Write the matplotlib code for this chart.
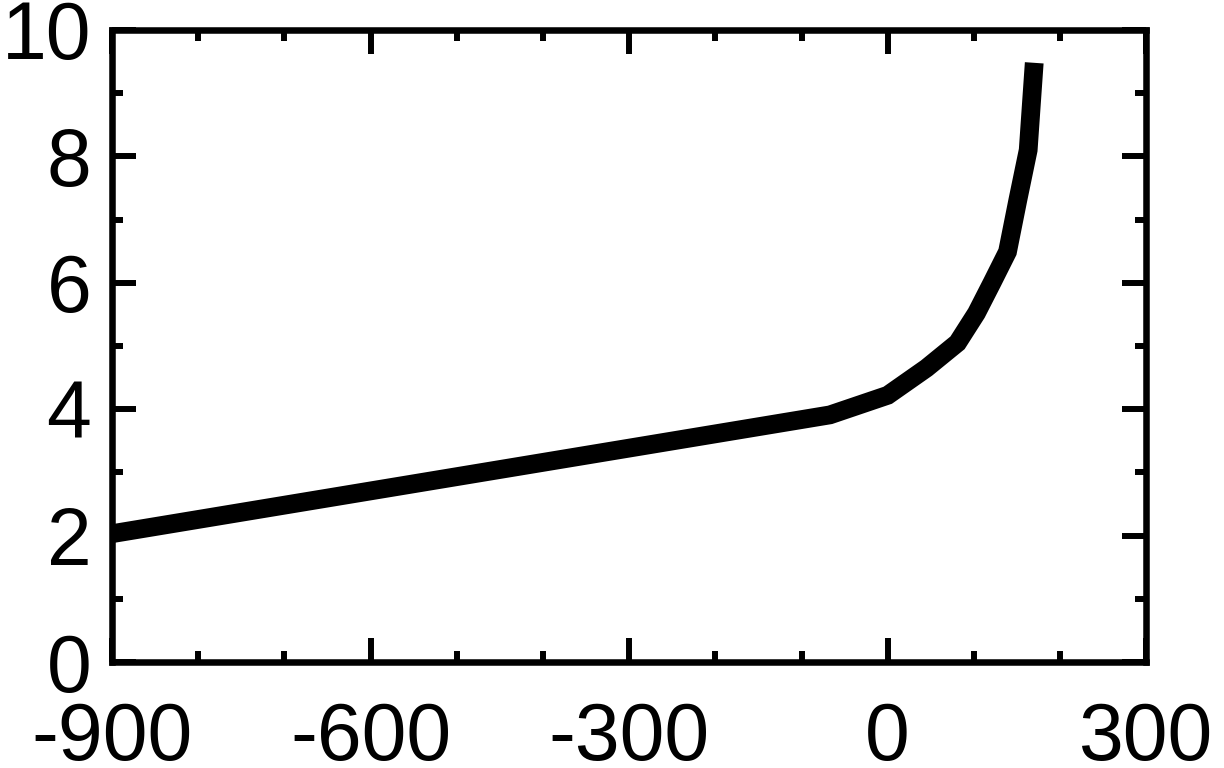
import matplotlib
matplotlib.use("Agg")
import matplotlib.pyplot as plt
from matplotlib.ticker import MultipleLocator

# values
x_vals = [-900, -67, 0, 45, 81, 103, 121, 139, 151, 163, 167, 170]
y_vals = [2.03, 3.91, 4.22, 4.65, 5.05, 5.52, 6.0, 6.49, 7.31, 8.1, 8.89, 9.48]
x_ticks = [-900, -600, -300, 0, 300]
y_ticks = [0, 2, 4, 6, 8, 10]

plt.rcParams['font.family'] = ['Liberation Sans', 'DejaVu Sans']
plt.rcParams['axes.unicode_minus'] = False

fig = plt.figure(figsize=(12.24, 7.68), dpi=100)
ax = fig.add_axes([0.0915, 0.138, 0.845, 0.823])

ax.plot(x_vals, y_vals, color='black', lw=13.5,
        solid_capstyle='butt', solid_joinstyle='miter')

ax.set_xlim(-900, 300)
ax.set_ylim(0, 10)
ax.set_xticks(x_ticks)
ax.set_yticks(y_ticks)
ax.xaxis.set_minor_locator(MultipleLocator(100))
ax.yaxis.set_minor_locator(MultipleLocator(1))

for s in ax.spines.values():
    s.set_linewidth(4.7)

ax.tick_params(which='both', direction='in', top=True, right=True,
               width=4.3, labelsize=58)
ax.tick_params(which='major', length=17)
ax.tick_params(which='minor', length=8)
ax.tick_params(axis='x', pad=28)
ax.tick_params(axis='y', pad=15)

fig.savefig("out.png", dpi=100)
